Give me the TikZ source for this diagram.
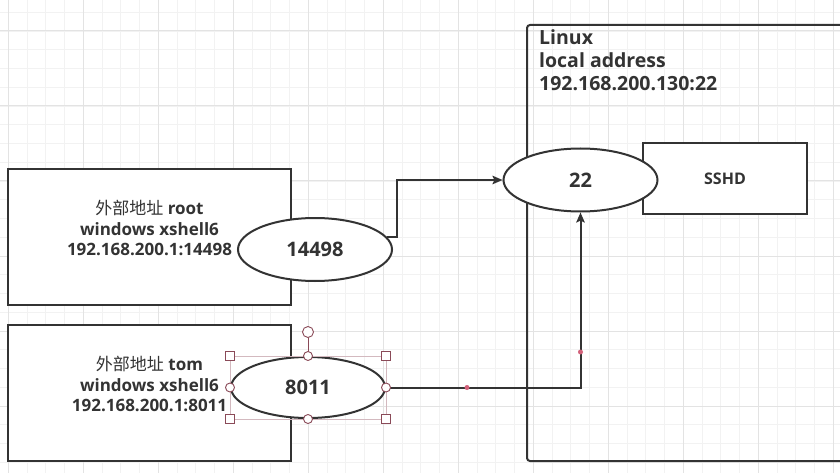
\documentclass[tikz,border=0pt]{standalone}
\usepackage{fontspec}
\setmainfont{Open Sans}
\newfontfamily\cjk{Noto Sans CJK SC}
\usetikzlibrary{arrows.meta,positioning,shapes.geometric}
\definecolor{ink}{HTML}{333333}
\definecolor{gridminor}{HTML}{F2F2F2}
\definecolor{gridmajor}{HTML}{E3E3E3}
\definecolor{handle}{HTML}{8A4A58}
\definecolor{handleline}{HTML}{D3B9BF}
\definecolor{bendpt}{HTML}{D2617A}

\begin{document}
\begin{tikzpicture}[
  x=1pt, y=-1pt,
  hostbox/.style = {
    rectangle, draw=ink, line width=2pt, fill=white,
    minimum width=283pt, minimum height=136pt, inner sep=0pt
  },
  hosttext/.style = {
    align=center, text=ink, inner sep=0pt,
    font=\fontsize{17}{20.5}\selectfont\bfseries
  },
  portnode/.style = {
    ellipse, draw=ink, line width=2pt, fill=white,
    minimum width=154pt, minimum height=63pt, inner sep=0pt,
    text=ink, font=\fontsize{20}{24}\selectfont\bfseries
  },
  svcbox/.style = {
    rectangle, draw=ink, line width=2pt, fill=white,
    minimum width=164pt, minimum height=71pt, inner sep=0pt,
    text=ink, font=\fontsize{16}{19}\selectfont\bfseries
  },
  conn/.style    = {-{Stealth[length=10pt, width=8.5pt, inset=2pt]}, draw=ink, line width=2pt},
  gridthin/.style  = {gridminor, line width=0.8pt},
  gridthick/.style = {gridmajor, line width=1pt},
  handlesq/.style  = {rectangle, draw=handle, fill=white, line width=0.9pt, minimum size=9pt, inner sep=0pt},
  handlecirc/.style = {circle, draw=handle, fill=white, line width=0.9pt, minimum size=9pt, inner sep=0pt},
  bendmark/.style = {circle, fill=bendpt, minimum size=5pt, inner sep=0pt},
]
\clip (0,0) rectangle (840,473);
\fill[white] (0,0) rectangle (840,473);

%% ---- Background grid ----
\foreach \i in {-1,...,45} {
  \draw[gridthin] ({8.3+18.75*\i},0) -- ++(0,473);
}
\foreach \i in {-2,...,25} {
  \draw[gridthin] (0,{31+18.75*\i}) -- ++(840,0);
}
\foreach \i in {0,...,11} {
  \draw[gridthick] ({8.3+75*\i},0) -- ++(0,473);
}
\foreach \i in {0,...,6} {
  \draw[gridthick] (0,{31+75*\i}) -- ++(840,0);
}

%% ---- Linux side ----
\draw[ink, line width=2pt, rounded corners=3pt] (527,25) rectangle (860,461);
\node[anchor=west, align=left, text=ink, inner sep=0pt,
      font=\fontsize{19.5}{23}\selectfont\bfseries] (linux) at (539,60)
  {Linux\\local address\\192.168.200.130:22};

\node[svcbox] (sshd) at (725,178.5) {SSHD};
\node[portnode] (e22) at (580.5,180) {22};

%% ---- Hosts ----
\node[hostbox] (rootbox) at (149.5,237) {};
\node[hosttext] (roottext) at (149.5,228)
  {{\cjk\mdseries 外部地址} root\\windows xshell6\\192.168.200.1:14498};

\node[hostbox] (tombox) at (149.5,393) {};
\node[hosttext] (tomtext) at (149.5,384)
  {{\cjk\mdseries 外部地址} tom\\windows xshell6\\192.168.200.1:8011};

\node[portnode] (e14498) at (315,249.5) {14498};
\node[portnode, minimum height=61pt] (e8011) at (308,387.5) {8011};

%% ---- Connectors ----
\coordinate (bend1) at (397,180);
\draw[conn] (e14498.10) -| (bend1) -- (e22.west);
\draw[conn] (e8011.east) -| (e22.south);

\node[bendmark] (mid1) at (467,387.5) {};
\node[bendmark] (mid2) at (580.5,352) {};

%% ---- Selection handles on 8011 ----
\draw[handleline, line width=0.8pt] (e8011.west |- e8011.north) rectangle (e8011.east |- e8011.south);
\node[handlecirc, minimum size=11pt] (rot) at (308,332) {};
\draw[handle, line width=0.9pt] (rot) -- (e8011.north);
\node[handlesq] (hnw) at (e8011.west |- e8011.north) {};
\node[handlesq] (hne) at (e8011.east |- e8011.north) {};
\node[handlesq] (hsw) at (e8011.west |- e8011.south) {};
\node[handlesq] (hse) at (e8011.east |- e8011.south) {};
\node[handlecirc] (hn) at (e8011.north) {};
\node[handlecirc] (hs) at (e8011.south) {};
\node[handlecirc] (hw) at (e8011.west) {};
\node[handlecirc] (he) at (e8011.east) {};

\end{tikzpicture}
\end{document}
